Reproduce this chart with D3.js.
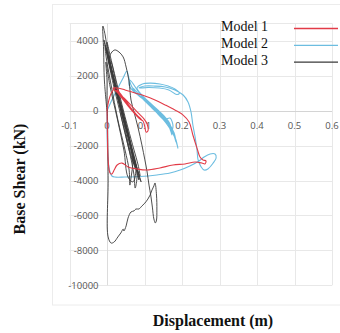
<!DOCTYPE html>
<html><head><meta charset="utf-8">
<script src="https://cdn.jsdelivr.net/npm/d3@7"></script>
<style>body{margin:0;background:#fff}svg{display:block}</style>
</head><body><svg id="c" width="340" height="333"></svg>
<script>
const seriesNames = ["Model 1", "Model 2", "Model 3"];
const xTicks = [-0.1, 0, 0.1, 0.2, 0.3, 0.4, 0.5, 0.6];
const yTicks = [-10000, -8000, -6000, -4000, -2000, 0, 2000, 4000];
const xLabel = "Displacement (m)";
const yLabel = "Base Shear (kN)";

const model1 = [[0,-20],[0.005,610],[0.013,1070],[0.024,1300],[0.040,730],[0.056,270],[0.072,-130],[0.088,-480],[0.096,-590],[0.101,-930],[0.104,-1220],[0.109,-1160],[0.107,-760],[0.099,-480],[0.083,-130],[0.061,380],[0.040,840],[0.024,1190],[0.048,500],[0.072,-70],[0.091,-530],[0.064,100],[0.035,990],[0.027,1150],[0.056,300],[0.085,-400],[0.094,-560],[0.072,-60],[0.045,700],[0.069,-20],[0.045,610],[0.029,1010],[0.016,1300],[0.029,1300],[0.048,1190],[0.075,1010],[0.101,840],[0.128,610],[0.155,330],[0.181,40],[0.203,-250],[0.219,-650],[0.229,-1390],[0.240,-2140],[0.248,-2650],[0.256,-2820],[0.264,-2880],[0.261,-3050],[0.253,-3000],[0.235,-2940],[0.208,-3050],[0.176,-3110],[0.141,-3280],[0.107,-3400],[0.080,-3340],[0.056,-3220],[0.040,-3000],[0.027,-3110],[0.019,-3400],[0.013,-3630],[0.008,-3570],[0.003,-2820],[0.001,-1100],[0,-20]];

const model2 = [[0,-20],[0.013,610],[0.029,1300],[0.043,1870],[0.053,2270],[0.057,1990],[0.064,1470],[0.075,1070],[0.088,790],[0.107,500],[0.123,150],[0.136,-190],[0.149,-480],[0.163,-760],[0.173,-1100],[0.181,-1560],[0.187,-1960],[0.189,-2140],[0.184,-1680],[0.176,-1220],[0.168,-820],[0.157,-530],[0.168,-420],[0.176,-880],[0.171,-1220],[0.163,-650],[0.152,-300],[0.133,40],[0.115,380],[0.096,730],[0.080,960],[0.067,1190],[0.059,1470],[0.061,1760],[0.088,960],[0.115,440],[0.141,-130],[0.163,-650],[0.179,-1280],[0.184,-1790],[0.179,-1450],[0.165,-930],[0.147,-420],[0.120,150],[0.093,730],[0.069,1300],[0.072,1070],[0.091,790],[0.112,380],[0.131,40],[0.147,-360],[0.160,-650],[0.168,-990],[0.173,-1390],[0.168,-760],[0.157,-420],[0.141,-70],[0.115,440],[0.093,900],[0.080,1300],[0.093,1520],[0.115,1580],[0.141,1530],[0.163,1410],[0.181,1250],[0.193,1010],[0.186,930],[0.165,1190],[0.140,1300],[0.110,1330],[0.085,1300],[0.101,1410],[0.128,1410],[0.155,1360],[0.181,1190],[0.203,900],[0.216,500],[0.224,-70],[0.229,-820],[0.235,-1510],[0.240,-2250],[0.243,-2820],[0.251,-3220],[0.259,-3400],[0.269,-3340],[0.283,-3000],[0.291,-2710],[0.288,-2480],[0.275,-2480],[0.259,-2650],[0.245,-2880],[0.221,-3170],[0.195,-3400],[0.168,-3570],[0.133,-3680],[0.088,-3770],[0.048,-3800],[0.021,-3800],[0.013,-3740],[0.008,-3510],[0.003,-2820],[0,-1100],[0,-20]];

const model3 = [[0,-20],[-0.007,1760],[-0.009,3480],[-0.011,4850],[-0.005,4340],[0.003,3190],[0.016,2050],[0.029,900],[0.043,-250],[0.056,-1390],[0.067,-2540],[0.075,-3280],[0.061,-2250],[0.040,-250],[0.021,1470],[0.005,3190],[0,3930],[0.008,3190],[0.024,1760],[0.040,330],[0.056,-990],[0.072,-2250],[0.083,-3110],[0.088,-3740],[0.077,-3110],[0.056,-1390],[0.035,330],[0.016,1870],[0.003,3190],[0.011,2790],[0.027,1300],[0.045,-250],[0.061,-1680],[0.069,-2820],[0.064,-3850],[0.061,-4260],[0.059,-3400],[0.048,-2250],[0.029,-530],[0.011,1470],[-0.003,3190],[-0.005,3760],[0.005,3020],[0.021,1470],[0.037,40],[0.053,-1220],[0.069,-2540],[0.080,-3510],[0.077,-4310],[0.075,-4430],[0.072,-3680],[0.059,-2250],[0.040,-530],[0.019,1300],[0.003,2900],[-0.003,3590],[0.013,2330],[0.032,730],[0.051,-820],[0.067,-2140],[0.080,-3280],[0.085,-3970],[0.072,-2820],[0.053,-1100],[0.032,610],[0.013,2220],[0,3360],[0.016,1990],[0.037,270],[0.056,-1330],[0.072,-2710],[0.083,-3630],[0.091,-4080],[0.075,-2940],[0.051,-990],[0.027,840],[0.008,2560],[-0.008,4050],[0.005,2790],[0.024,1190],[0.045,-530],[0.064,-2140],[0.077,-3400],[0.069,-4080],[0.056,-3800],[0.045,-2250],[0.027,-420],[0.008,1410],[-0.003,2790],[0,1760],[0,610],[0.001,-20],[0.003,-3970],[0.003,-7230],[0.011,-7580],[0.019,-7520],[0.029,-7230],[0.037,-7000],[0.043,-6780],[0.045,-6890],[0.051,-6600],[0.056,-6150],[0.064,-5800],[0.072,-5740],[0.077,-5630],[0.085,-5630],[0.093,-5460],[0.101,-5290],[0.109,-5060],[0.115,-4830],[0.120,-4540],[0.125,-4310],[0.128,-4140],[0.132,-4830],[0.133,-5690],[0.132,-6260],[0.129,-6430],[0.125,-6200],[0.121,-5520],[0.117,-4890],[0.112,-4260],[0.107,-3510],[0.101,-2820],[0.093,-1960],[0.083,-990],[0.072,-70],[0.064,610],[0.059,1640],[0.051,2500],[0.043,3080],[0.032,3360],[0.021,3480],[0.011,3300],[0.005,2900],[0.019,1640],[0.035,150],[0.051,-1100],[0.064,-2250],[0.075,-3110],[0.067,-2820],[0.051,-1560],[0.035,-70]];

const colors = ["#e23b47", "#6cbde0", "#3a3a3a"];
const seriesData = [model1, model2, model3];

const svg = d3.select("#c");
const x = d3.scaleLinear().domain([-0.1, 0.6]).range([69.5, 332]);
const y = d3.scaleLinear().domain([-10000, 5000]).range([285.3, 23.4]);

// outer chart border
svg.append("rect").attr("x", 52.5).attr("y", 4.5).attr("width", 300).attr("height", 300.5)
  .attr("fill", "none").attr("stroke", "#ececec");

const grid = svg.append("g").attr("stroke", "#e8e8e8").attr("stroke-width", 1);
xTicks.forEach(t => grid.append("line").attr("x1", Math.round(x(t))+0.5).attr("x2", Math.round(x(t))+0.5)
  .attr("y1", y(5000)).attr("y2", y(-10000)));
yTicks.concat([5000]).forEach(t => grid.append("line").attr("y1", Math.round(y(t))+0.5).attr("y2", Math.round(y(t))+0.5)
  .attr("x1", x(-0.1)).attr("x2", x(0.6)));
// zero axes
svg.append("line").attr("x1", x(-0.1)).attr("x2", x(0.6)).attr("y1", Math.round(y(0))+0.5).attr("y2", Math.round(y(0))+0.5)
  .attr("stroke", "#d4d4d4");
svg.append("line").attr("x1", Math.round(x(0))+0.5).attr("x2", Math.round(x(0))+0.5).attr("y1", y(5000)).attr("y2", y(-10000))
  .attr("stroke", "#dcdcdc");

// tick labels
const tf = "'Open Sans', sans-serif";
svg.append("g").selectAll("text").data(yTicks).join("text")
  .attr("x", 98.5).attr("y", d => y(d)).attr("dy", "0.35em").attr("text-anchor", "end")
  .attr("font-family", tf).attr("font-size", 9.5).attr("fill", "#555").text(d => d);
svg.append("g").selectAll("text").data(xTicks).join("text")
  .attr("x", d => x(d)).attr("y", y(0) + 14.5).attr("dy", "0.35em").attr("text-anchor", "middle")
  .attr("font-family", tf).attr("font-size", 9.5).attr("fill", "#555").text(d => d);

// series
const line = d3.line().x(d => x(d[0])).y(d => y(d[1])).curve(d3.curveCatmullRom.alpha(0.5));
[1, 2, 0].forEach(i => {
  svg.append("path").attr("d", line(seriesData[i])).attr("fill", "none")
    .attr("stroke", colors[i]).attr("stroke-width", i === 2 ? 0.9 : 1.1).attr("stroke-linejoin", "round");
});

// legend
const lg = svg.append("g");
seriesNames.forEach((n, i) => {
  const yy = 28.5 + i * 16.8;
  lg.append("text").attr("x", 221).attr("y", yy + 2.5).attr("font-family", "'Liberation Serif', serif")
    .attr("font-size", 14).attr("fill", "#111").text(n);
  lg.append("line").attr("x1", 294).attr("x2", 338).attr("y1", yy).attr("y2", yy)
    .attr("stroke", colors[i]).attr("stroke-width", 1.3);
});

// axis titles
svg.append("text").attr("x", 213).attr("y", 326).attr("text-anchor", "middle")
  .attr("font-family", "'Liberation Serif', serif").attr("font-weight", "bold").attr("font-size", 16)
  .attr("fill", "#111").text(xLabel);
svg.append("text").attr("transform", "translate(25,179) rotate(-90)").attr("text-anchor", "middle")
  .attr("font-family", "'Liberation Serif', serif").attr("font-weight", "bold").attr("font-size", 16)
  .attr("fill", "#111").text(yLabel);
</script></body></html>
